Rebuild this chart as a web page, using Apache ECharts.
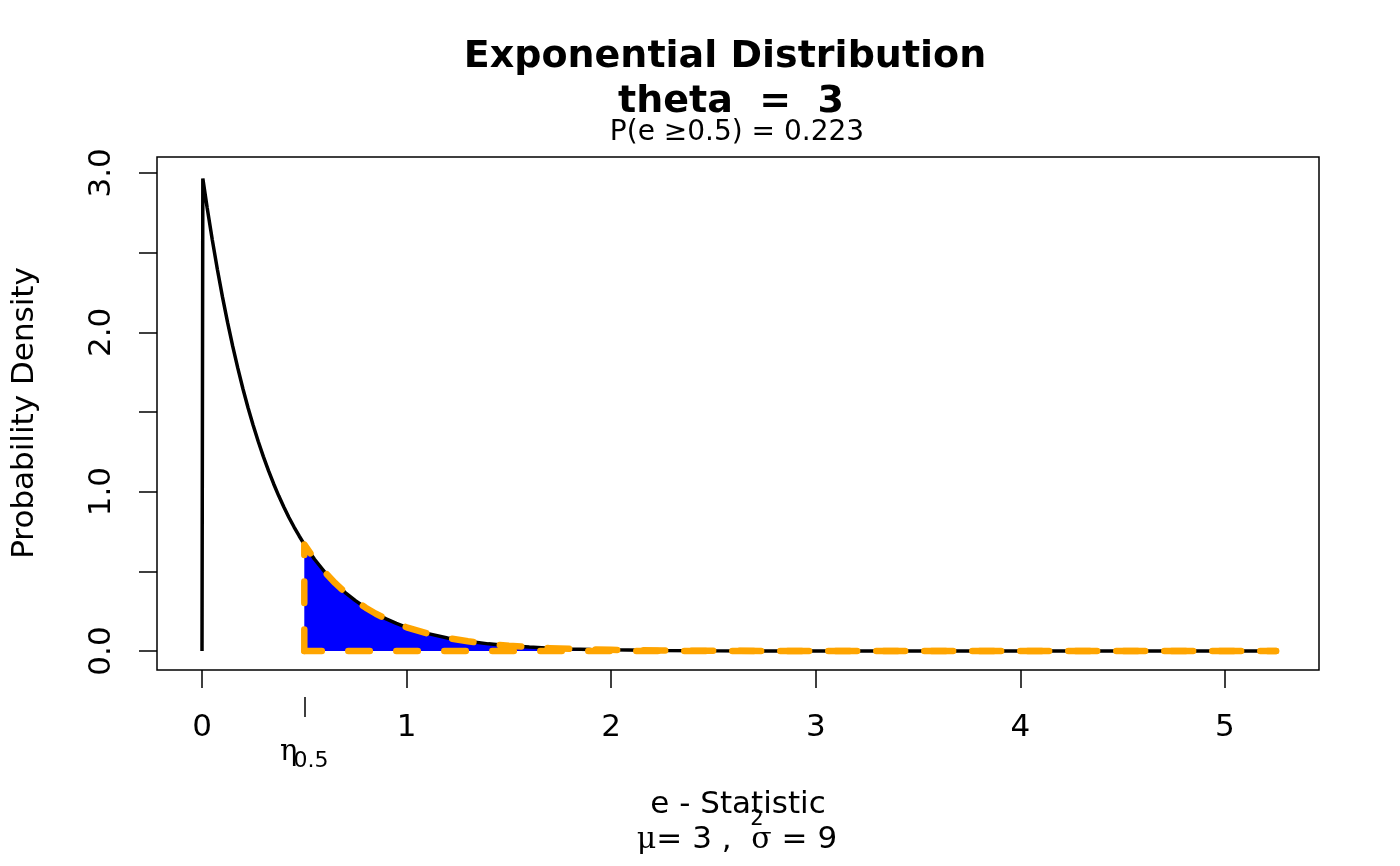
<!DOCTYPE html>
<html><head><meta charset="utf-8">
<script src="https://cdn.jsdelivr.net/npm/echarts@6/dist/echarts.min.js"></script>
<style>html,body{margin:0;padding:0;background:#fff}#c{width:1400px;height:866px}</style>
</head><body><div id="c"></div>
<script>
// density curve
const curveX = [0, 0.004, 0.025, 0.05, 0.075, 0.1, 0.125, 0.15, 0.175, 0.2, 0.225, 0.25, 0.275, 0.3, 0.325, 0.35, 0.375, 0.4, 0.425, 0.45, 0.475, 0.5,
  0.55, 0.6, 0.65, 0.7, 0.75, 0.8, 0.85, 0.9, 0.95, 1.0,
  1.1, 1.2, 1.3, 1.4, 1.5, 1.6, 1.7, 1.8, 1.9, 2.0,
  2.25, 2.5, 2.75, 3.0, 3.25, 3.5, 3.75, 4.0, 4.25, 4.5, 4.75, 5.0, 5.25];
const curveY = [0, 2.965, 2.783, 2.582, 2.396, 2.222, 2.062, 1.913, 1.775, 1.646, 1.527, 1.417, 1.315, 1.220, 1.132, 1.050, 0.974, 0.904, 0.838, 0.778, 0.722, 0.669,
  0.576, 0.496, 0.427, 0.367, 0.316, 0.272, 0.234, 0.202, 0.173, 0.149,
  0.111, 0.082, 0.061, 0.045, 0.033, 0.025, 0.018, 0.0135, 0.010, 0.0074,
  0.0035, 0.0017, 0.0008, 0.0004, 0.0002, 0.0001, 0, 0, 0, 0, 0, 0, 0];
const cutoff = 0.5;
const tailEnd = 5.25;
const xTicks = [0, 1, 2, 3, 4, 5];
const yTicks = [0, 0.5, 1, 1.5, 2, 2.5, 3];
const yLabelVals = [0, 1, 2, 3];
const titleLines = ['Exponential Distribution', 'theta  =  3'];
const subtitle = 'P(e \u22650.5) = 0.223';
const xName = 'e - Statistic';
const yName = 'Probability Density';

const curve = curveX.map((x, i) => [x, curveY[i]]);
const shade = curve.filter(p => p[0] >= cutoff);
const outlineTop = [[cutoff, 0]].concat(shade, [[tailEnd, 0]]);
const outlineBase = [[cutoff, 0], [tailEnd, 0]];

const FONT = 'DejaVu Sans';
const DASH = {color: '#FFA500', width: 6.5, type: [21.5, 26.5], cap: 'round', join: 'round'};
const chart = echarts.init(document.getElementById('c'), null, {renderer: 'canvas'});
const option = {
  backgroundColor: '#fff',
  animation: false,
  textStyle: {fontFamily: FONT, color: '#000'},
  grid: {left: 157, top: 157, width: 1162, height: 513, show: true, borderColor: '#000', borderWidth: 1.5, backgroundColor: 'transparent'},
  xAxis: [{
    type: 'value', min: -0.22, max: 5.46, position: 'bottom',
    axisLine: {show: false, onZero: false}, splitLine: {show: false},
    axisTick: {show: true, length: 18, lineStyle: {color: '#000', width: 1.5}, customValues: xTicks},
    axisLabel: {show: true, customValues: xTicks, margin: 42, fontSize: 31, color: '#000', fontFamily: FONT}
  }, {
    type: 'value', min: -0.22, max: 5.46, position: 'bottom', offset: 27,
    axisLine: {show: false, onZero: false}, splitLine: {show: false},
    axisTick: {show: true, length: 20, lineStyle: {color: '#000', width: 1.5}, customValues: [cutoff]},
    axisLabel: {show: true, customValues: [cutoff], margin: 41,
      formatter: () => '{e|\u03b7}{s|0.5}',
      rich: {
        e: {fontFamily: 'DejaVu Serif', fontSize: 29, color: '#000', verticalAlign: 'top', lineHeight: 34, padding: [0, -4, 0, 0]},
        s: {fontFamily: FONT, fontSize: 22, color: '#000', verticalAlign: 'bottom', lineHeight: 34}
      }}
  }],
  yAxis: {
    type: 'value', min: -0.119, max: 3.10,
    axisLine: {show: false, onZero: false}, splitLine: {show: false},
    axisTick: {show: true, length: 18, lineStyle: {color: '#000', width: 1.5}, customValues: yTicks},
    axisLabel: {show: true, customValues: yLabelVals, rotate: 90, margin: 40, fontSize: 31, color: '#000', fontFamily: FONT,
      formatter: v => v.toFixed(1)}
  },
  series: [{
    type: 'line', data: shade, showSymbol: false, z: 1,
    lineStyle: {width: 0, opacity: 0}, areaStyle: {color: '#0000FF', opacity: 1}
  }, {
    type: 'line', data: curve, showSymbol: false, z: 2,
    lineStyle: {color: '#000', width: 3.5}
  }, {
    type: 'line', data: outlineTop, showSymbol: false, z: 3, lineStyle: DASH
  }, {
    type: 'line', data: outlineBase, showSymbol: false, z: 3, lineStyle: Object.assign({}, DASH, {dashOffset: 4})
  }],
  graphic: [
    {type: 'text', x: 725, y: 57, style: {text: titleLines[0], font: 'bold 38px "DejaVu Sans"', fill: '#000', textAlign: 'center', textVerticalAlign: 'middle'}},
    {type: 'text', x: 731, y: 102, style: {text: titleLines[1], font: 'bold 38px "DejaVu Sans"', fill: '#000', textAlign: 'center', textVerticalAlign: 'middle'}},
    {type: 'text', x: 737, y: 133, style: {text: subtitle, font: '28px "DejaVu Sans"', fill: '#000', textAlign: 'center', textVerticalAlign: 'middle'}},
    {type: 'text', x: 738, y: 805, style: {text: xName, font: '31px "DejaVu Sans"', fill: '#000', textAlign: 'center', textVerticalAlign: 'middle'}},
    {type: 'text', x: 737, y: 840, style: {
      text: '{g|\u03bc}{n|= 3 ,  }{g|\u03c3}{n| = 9}', textAlign: 'center', textVerticalAlign: 'middle',
      rich: {g: {fontFamily: 'DejaVu Serif', fontSize: 30, fill: '#000'}, n: {fontFamily: FONT, fontSize: 31, fill: '#000'}}}},
    {type: 'text', x: 757, y: 820, style: {text: '2', font: '21px "DejaVu Sans"', fill: '#000', textAlign: 'center', textVerticalAlign: 'middle'}},
    {type: 'text', x: 25, y: 413, rotation: Math.PI / 2, style: {text: yName, font: '31px "DejaVu Sans"', fill: '#000', textAlign: 'center', textVerticalAlign: 'middle'}}
  ]
};
chart.setOption(option);
</script>
</body></html>
